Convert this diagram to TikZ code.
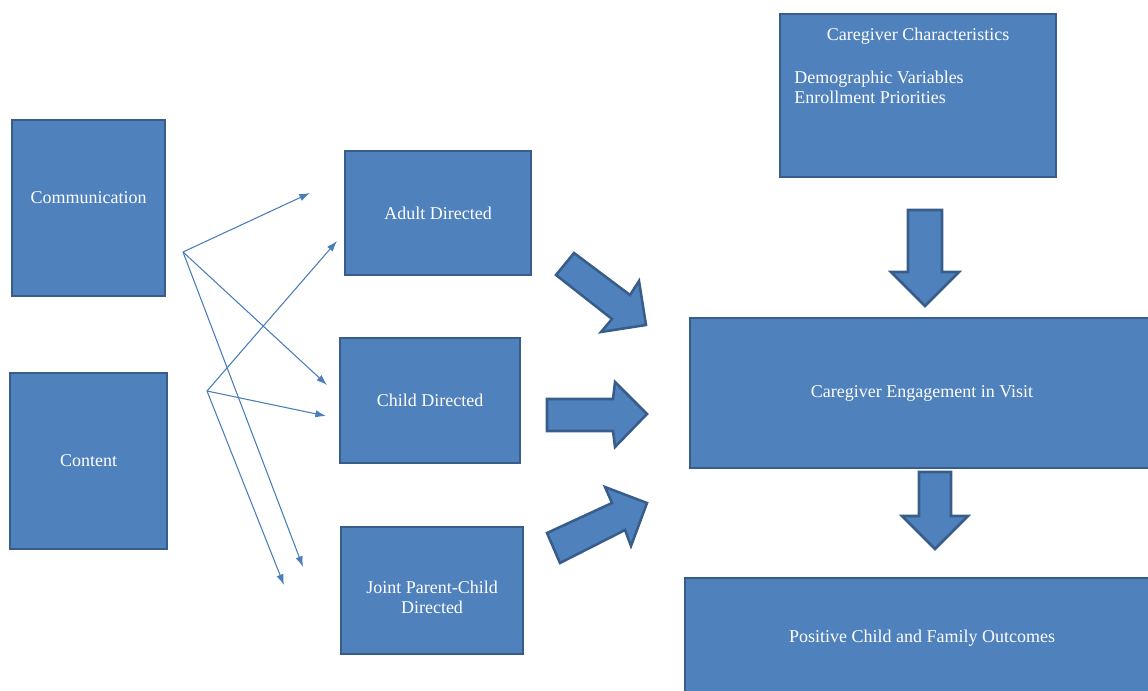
\documentclass[tikz,border=0pt]{standalone}
\usepackage{fontspec}
\setmainfont{Liberation Serif}
\usetikzlibrary{arrows.meta}

\definecolor{boxfill}{HTML}{4F81BD}
\definecolor{boxline}{HTML}{385D8A}
\definecolor{linkline}{HTML}{4A7EBB}

\tikzset{
  box/.style={draw=boxline, fill=boxfill, line width=1.9pt, text=white,
    font=\fontsize{13.5}{15}\selectfont, align=center, inner sep=0pt},
  boxsize/.style 2 args={minimum width={#1*0.75pt}, minimum height={#2*0.75pt}},
  boxtext/.style={text=white, font=\fontsize{13.5}{15}\selectfont, inner sep=0pt},
  link/.style={linkline, line width=0.8pt, -{Latex[length=8pt,width=5.5pt]}},
  bigarrow/.style={draw=boxline, fill=boxfill, line width=1.9pt, line join=miter}
}

\begin{document}
\begin{tikzpicture}[x=0.75pt, y=-0.75pt]
    \useasboundingbox (0,0) rectangle (1148,691);
    \clip (0,0) rectangle (1148,691);

    % Caselle a sinistra
    \node[box, boxsize={153}{176}, text depth=15pt] (comm) at (88.5,208) {Communication};
    \node[box, boxsize={157}{176}] (content) at (88.5,461) {Content};

    % Caselle centrali
    \node[box, boxsize={186}{124}] (adult) at (438,213) {Adult Directed};
    \node[box, boxsize={180}{125}] (child) at (430,400.5) {Child Directed};
    \node[box, boxsize={182}{127}] (joint) at (432,590.5) {};
    \node[boxtext, align=center] (jointtxt) at (432,597) {Joint Parent-Child\\Directed};

    % Caselle a destra
    \node[box, boxsize={276}{163}] (carechar) at (918,95.5) {};
    \node[boxtext] (charttl) at (918,36) {Caregiver Characteristics};
    \node[boxtext, align=left, anchor=west] (charlist) at (794,87)
        {Demographic Variables\\Enrollment Priorities};
    \node[box, boxsize={464}{150}] (engage) at (922,393) {Caregiver Engagement in Visit};
    \node[box, boxsize={474}{120}] (outcome) at (922,638) {Positive Child and Family Outcomes};

    % Frecce sottili
    \coordinate (commout) at (183,252);
    \coordinate (contout) at (207,391);
    \coordinate (tipa) at (310,193);
    \coordinate (tipb) at (327,385);
    \coordinate (tipc) at (303,567);
    \coordinate (tipd) at (337,241);
    \coordinate (tipe) at (326,416);
    \coordinate (tipf) at (284,585);
    \draw[link] (commout) -- (tipa);
    \draw[link] (commout) -- (tipb);
    \draw[link] (commout) -- (tipc);
    \draw[link] (contout) -- (tipd);
    \draw[link] (contout) -- (tipe);
    \draw[link] (contout) -- (tipf);

    % Frecce larghe verso il centro
    \draw[bigarrow] (556,275) -- (574,253) -- (630,295) -- (639,281) -- (646,325)
        -- (601,332) -- (612,319) -- cycle;
    \draw[bigarrow] (547,399) -- (613,399) -- (615,382) -- (647,414) -- (615,447)
        -- (613,431) -- (547,431) -- cycle;
    \draw[bigarrow] (547,533) -- (612,503) -- (605,487) -- (647,503) -- (631,546)
        -- (625,530) -- (560,563) -- cycle;

    % Frecce verso il basso
    \draw[bigarrow] (908,210) -- (942,210) -- (942,272) -- (959,272) -- (925,306)
        -- (891,272) -- (908,272) -- cycle;
    \draw[bigarrow] (919,472) -- (951,472) -- (951,516) -- (968,516) -- (935,549)
        -- (902,516) -- (919,516) -- cycle;
\end{tikzpicture}
\end{document}
